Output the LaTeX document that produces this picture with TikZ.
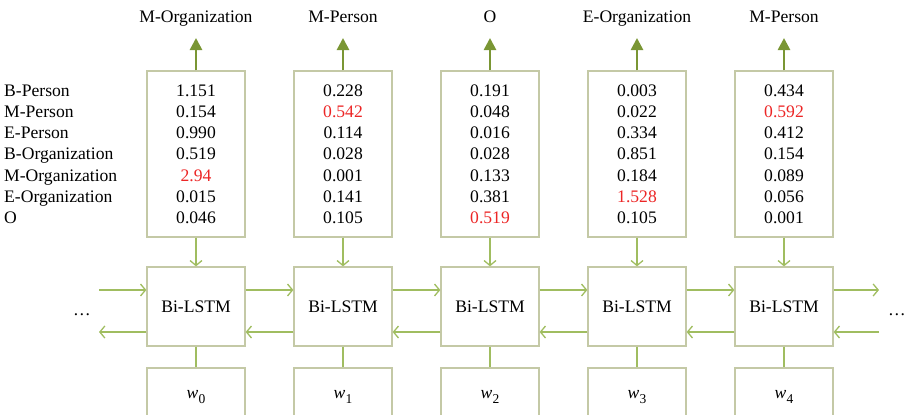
\documentclass[tikz,border=0pt]{standalone}
\usepackage{fontspec}
\setmainfont{Liberation Serif}
\usetikzlibrary{arrows.meta}

\definecolor{boxline}{RGB}{196,201,166}
\definecolor{linkgreen}{RGB}{160,189,96}
\definecolor{outgreen}{RGB}{122,150,52}
\definecolor{hotred}{RGB}{236,38,38}

\tikzset{
  cell/.style={draw=boxline, line width=1.3pt, minimum width=98pt, inner sep=0pt},
  txt/.style={anchor=base, inner sep=0pt, font=\fontsize{17.6}{21}\selectfont},
  link/.style={draw=linkgreen, line width=1.3pt, -{Straight Barb[length=5pt,width=12pt,line width=1.3pt]}},
  plain/.style={draw=linkgreen, line width=1.3pt},
  outarrow/.style={draw=outgreen, line width=2.6pt, -{Triangle[length=12pt,width=12pt]}},
}

\newcommand{\wsub}[1]{\textit{w}\kern0.3pt\raisebox{-5pt}{\fontsize{13.5}{13.5}\selectfont #1}}

\begin{document}
\begin{tikzpicture}[x=1pt,y=-1pt]
\path[use as bounding box, clip] (0,0) rectangle (905,415);

% tag names on the left
\foreach \t [count=\i from 0] in {B-Person,M-Person,E-Person,B-Organization,M-Organization,E-Organization,O}
  \node[txt, anchor=base west] (tag\i) at (4,{96+21.33*\i}) {\t};

% one column per time step: scores, Bi-LSTM cell, word input
\foreach \k/\cx/\out/\hot/\sa/\sb/\sc/\sd/\se/\sf/\sg in {
  0/196/M-Organization/4/1.151/0.154/0.990/0.519/2.94/0.015/0.046,
  1/343/M-Person/1/0.228/0.542/0.114/0.028/0.001/0.141/0.105,
  2/490/O/6/0.191/0.048/0.016/0.028/0.133/0.381/0.519,
  3/637/E-Organization/5/0.003/0.022/0.334/0.851/0.184/1.528/0.105,
  4/784/M-Person/1/0.434/0.592/0.412/0.154/0.089/0.056/0.001}{
  \node[cell, minimum height=166pt] (score\k) at (\cx,154) {};
  \node[cell, minimum height=79pt] (lstm\k) at (\cx,306.5) {};
  \node[txt] (lstmtxt\k) at (\cx,312) {Bi-LSTM};
  \node[cell, minimum height=80pt] (word\k) at (\cx,408) {};
  \node[txt] (wtxt\k) at (\cx,398) {\wsub{\k}};
  \node[txt] (out\k) at (\cx,22) {\out};
  \coordinate (tip\k) at (\cx,38);
  \draw[outarrow] (score\k.north) -- (tip\k);
  \foreach \v [count=\i from 0] in {\sa,\sb,\sc,\sd,\se,\sf,\sg}{
    \ifnum\i=\hot
      \node[txt, text=hotred] (s\k-\i) at (\cx,{96+21.33*\i}) {\v};
    \else
      \node[txt] (s\k-\i) at (\cx,{96+21.33*\i}) {\v};
    \fi
  }
  \draw[link] (score\k.south) -- (lstm\k.north);
  \draw[plain] (lstm\k.south) -- (word\k.north);
}

% forward and backward links between neighbouring cells
\foreach \a/\b in {0/1,1/2,2/3,3/4}{
  \draw[link] (lstm\a.east |- 0,290) -- (lstm\b.west |- 0,290);
  \draw[link] (lstm\b.west |- 0,332) -- (lstm\a.east |- 0,332);
}

% open ends of the chain
\coordinate (inL) at (99,290);
\coordinate (outL) at (99,332);
\coordinate (outR) at (879,290);
\coordinate (inR) at (879,332);
\draw[link] (inL) -- (lstm0.west |- inL);
\draw[link] (lstm0.west |- outL) -- (outL);
\draw[link] (lstm4.east |- outR) -- (outR);
\draw[link] (inR) -- (lstm4.east |- inR);
\node[txt] (dotsL) at (82,315) {\dots};
\node[txt] (dotsR) at (897,315) {\dots};
\end{tikzpicture}
\end{document}
